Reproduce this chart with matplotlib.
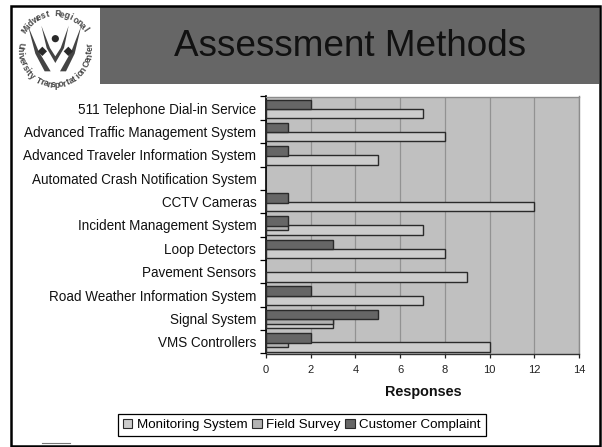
import math

import matplotlib
matplotlib.use("Agg")
import matplotlib.pyplot as plt
import matplotlib.patches as mpatches
import numpy as np

plt.rcParams["font.family"] = ["Liberation Sans", "DejaVu Sans"]

W, H = 602, 447

categories = [
    "511 Telephone Dial-in Service",
    "Advanced Traffic Management System",
    "Advanced Traveler Information System",
    "Automated Crash Notification System",
    "CCTV Cameras",
    "Incident Management System",
    "Loop Detectors",
    "Pavement Sensors",
    "Road Weather Information System",
    "Signal System",
    "VMS Controllers",
]
monitoring = [7, 8, 5, 0, 12, 7, 8, 9, 7, 3, 10]
field_survey = [0, 0, 0, 0, 0, 1, 0, 0, 0, 3, 1]
complaint = [2, 1, 1, 0, 1, 1, 3, 0, 2, 5, 2]
x_ticks = [0, 2, 4, 6, 8, 10, 12, 14]

C_MON = "#cccccc"
C_FIELD = "#b2b2b2"
C_COMP = "#666666"
EDGE = "#2a2a2a"


def px_axes(fig, left, top, right, bottom):
    return fig.add_axes([left / W, 1 - bottom / H, (right - left) / W, (bottom - top) / H])


def arc_text(ax, s, cx, cy, r, start, end, top=True):
    # one rotated letter at a time, angles in degrees, 0 = east, screen y goes down
    angles = np.linspace(start, end, len(s))
    for ch, a in zip(s, angles):
        x = cx + r * math.cos(math.radians(a))
        y = cy - r * math.sin(math.radians(a))
        rot = a - 90 if top else a + 90
        ax.text(x, y, ch, rotation=rot, rotation_mode="anchor", ha="center", va="center",
                fontsize=6.2, fontweight="bold", color="#444444")


def draw_logo(ax):
    cx, cy = 55, 50
    arc_text(ax, "Midwest Regional", cx, cy, 36, 146, 34, top=True)
    arc_text(ax, "University Transportation Center", cx, cy, 35, 172, 368, top=False)

    def z(points):
        return [(8 + a / 3, 3 + b / 3) for a, b in points]

    blades = [
        [(60, 68), (92, 145), (128, 205), (110, 205), (82, 152)],
        [(220, 68), (190, 145), (156, 205), (174, 205), (200, 152)],
        [(100, 68), (126, 135), (142, 160), (158, 135), (182, 68), (168, 135), (142, 180), (116, 135)],
    ]
    for b in blades:
        ax.add_patch(mpatches.Polygon(z(b), closed=True, fc="#444444", ec="none"))
    for dx, dy in [(103, 145), (181, 145)]:
        ax.add_patch(mpatches.Polygon(
            z([(dx - 14, dy), (dx, dy - 14), (dx + 14, dy), (dx, dy + 14)]),
            closed=True, fc="#2a2a2a", ec="none"))
    ax.add_patch(mpatches.Circle((8 + 142 / 3, 3 + 107 / 3), 3.6, fc="#2a2a2a", ec="none"))


def edge_widths(values):
    # a zero bar leaves no mark on the axis
    return [1.0 if v > 0 else 0 for v in values]


fig = plt.figure(figsize=(W / 100, H / 100), dpi=100, facecolor="white")

# slide background: frame, header band, logo
bg = fig.add_axes([0, 0, 1, 1])
bg.set_xlim(0, W)
bg.set_ylim(H, 0)
bg.axis("off")
bg.add_patch(mpatches.Rectangle((100, 7), 499, 77, fc="#666666", ec="none"))
bg.add_patch(mpatches.Rectangle((11, 6.3), 589, 439.2, fc="none", ec="black", lw=1.8))
bg.plot([42, 70], [442.5, 442.5], color="#777777", lw=0.8)
bg.text(350, 46, "Assessment Methods", ha="center", va="center", fontsize=26.6, color="#111111")
draw_logo(bg)

# chart
ax = px_axes(fig, 266, 96.5, 579, 353.5)
ax.set_facecolor("#c0c0c0")
y = np.arange(len(categories))
ax.barh(y + 0.22, monitoring, height=0.40, color=C_MON, edgecolor=EDGE,
        linewidth=edge_widths(monitoring), zorder=3)
ax.barh(y + 0.125, field_survey, height=0.21, color=C_FIELD, edgecolor=EDGE,
        linewidth=edge_widths(field_survey), zorder=4)
ax.barh(y - 0.165, complaint, height=0.41, color=C_COMP, edgecolor=EDGE,
        linewidth=edge_widths(complaint), zorder=5)

ax.set_xlim(0, 14)
ax.set_ylim(len(categories) - 0.5, -0.5)
ax.set_xticks(x_ticks)
ax.set_yticks(y)
ax.set_yticklabels(categories, fontsize=9.75, color="#111111")
ax.set_yticks(np.arange(len(categories) + 1) - 0.5, minor=True)
ax.tick_params(axis="y", which="major", length=0, pad=7)
ax.tick_params(axis="y", which="minor", length=4, width=0.9, color="black")
ax.tick_params(axis="x", length=3, width=0.9, labelsize=8, pad=5, colors="#222222")
ax.grid(axis="x", color="#929292", lw=0.9, zorder=1)
ax.set_axisbelow(True)
for side in ["top", "right"]:
    ax.spines[side].set_color("#8c8c8c")
    ax.spines[side].set_linewidth(1)
ax.spines["left"].set_color("black")
ax.spines["left"].set_linewidth(1.2)
ax.spines["bottom"].set_color("#333333")
ax.spines["bottom"].set_linewidth(1)

bg.text(423, 392, "Responses", ha="center", va="center", fontsize=10.4, fontweight="bold", color="#111111")

handles = [
    mpatches.Patch(fc=C_MON, ec=EDGE, lw=0.8, label="Monitoring System"),
    mpatches.Patch(fc=C_FIELD, ec=EDGE, lw=0.8, label="Field Survey"),
    mpatches.Patch(fc=C_COMP, ec=EDGE, lw=0.8, label="Customer Complaint"),
]
leg = fig.legend(handles=handles, loc="center", bbox_to_anchor=(302 / W, 1 - 425 / H), ncols=3,
                 fontsize=9.6, frameon=True, fancybox=False, edgecolor="black", framealpha=1,
                 handlelength=0.7, handleheight=0.7, handletextpad=0.35, columnspacing=0.35,
                 borderpad=0.35, borderaxespad=0)
leg.get_frame().set_linewidth(0.9)

fig.savefig("out.png", dpi=100)
